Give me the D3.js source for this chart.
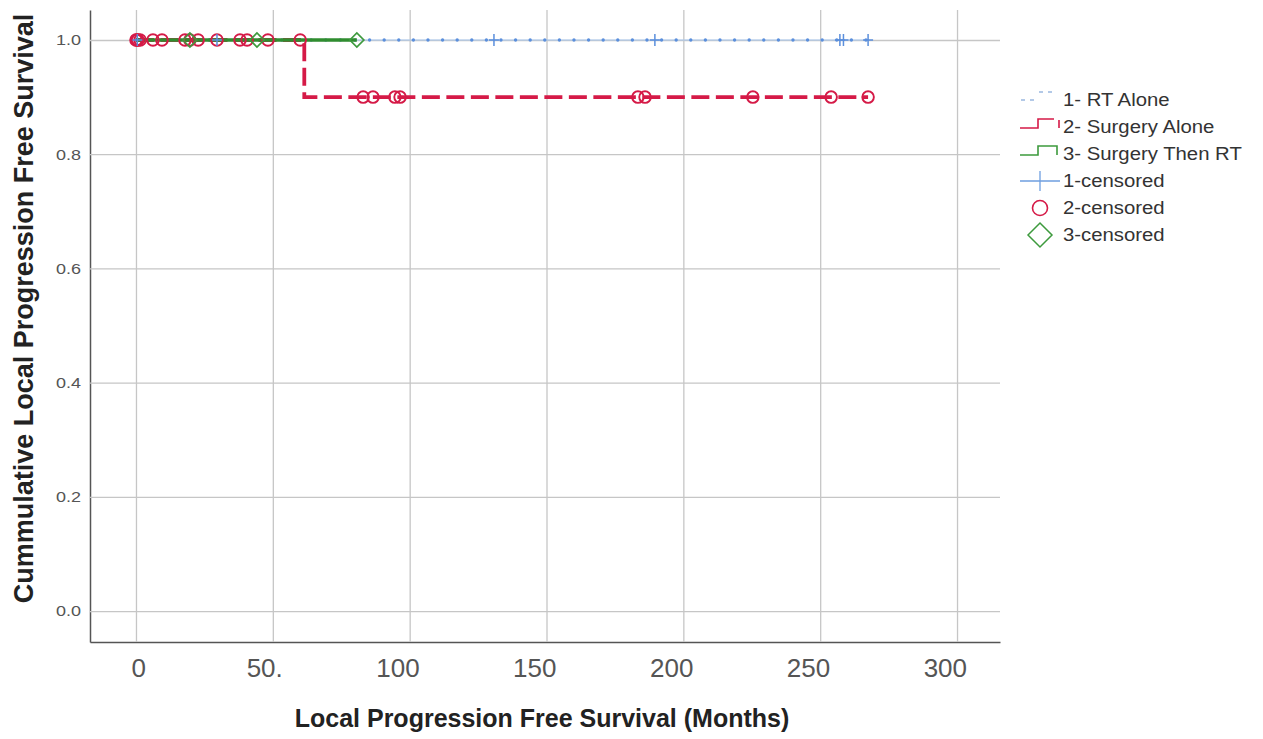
<!DOCTYPE html>
<html><head><meta charset="utf-8">
<script src="https://cdn.jsdelivr.net/npm/d3@7"></script>
<style>body{margin:0;background:#fff}svg{display:block}text{font-family:"Liberation Sans",Arial,sans-serif}</style>
</head><body><svg id="c" width="1263" height="739"></svg>
<script>
// X / Y ticks
const xTicks = [0, 50, 100, 150, 200, 250, 300];
const xTickLabels = ["0", "50.", "100", "150", "200", "250", "300"];
const yTicks = [0, 0.2, 0.4, 0.6, 0.8, 1.0];
const yTickLabels = ["0.0", "0.2", "0.4", "0.6", "0.8", "1.0"];

// Series names
const seriesNames = ["1- RT Alone", "2- Surgery Alone", "3- Surgery Then RT"];
const censorNames = ["1-censored", "2-censored", "3-censored"];

// Kaplan-Meier step points (time, survival)
const rtTimes = [0, 267.5];
const rtSurv = [1.0, 1.0];
const surgTimes = [0, 61.5, 267.5];
const surgSurv = [1.0, 0.9, 0.9];
const surgRtTimes = [0, 80.7];
const surgRtSurv = [1.0, 1.0];

// Censored observations (time, survival)
const rtCensTimes = [0.5, 29.6, 130.8, 189.6, 257.2, 258.5, 267.5];
const rtCensSurv = [1, 1, 1, 1, 1, 1, 1];
const surgCensTimes = [0, 0.3, 0.7, 1.5, 6.2, 9.5, 17.9, 19.7, 22.7, 29.6, 38, 40.6, 48.2, 60,
                       83, 86.6, 94.6, 96.5, 183.4, 186, 225.4, 254, 267.5];
const surgCensSurv = [1, 1, 1, 1, 1, 1, 1, 1, 1, 1, 1, 1, 1, 1,
                      0.9, 0.9, 0.9, 0.9, 0.9, 0.9, 0.9, 0.9, 0.9];
const surgRtCensTimes = [19.7, 44.2, 80.7];
const surgRtCensSurv = [1, 1, 1];

const svg = d3.select("#c");
const x = d3.scaleLinear().domain([-16.8, 315.7]).range([90, 1000]);
const y = d3.scaleLinear().domain([-0.054, 1.0525]).range([642, 10]);

const BLUE = "#5b8fdc", BLUE_L = "#a8c8f0", RED = "#d51a47", GREEN = "#2f8d2f", GREEN_M = "#3d9a3d";

// axes + gridlines
const gx = svg.append("g").attr("transform", "translate(0,642)")
  .call(d3.axisBottom(x).tickValues(xTicks).tickSize(-632).tickSizeOuter(0).tickFormat((d, i) => xTickLabels[i]));
gx.select(".domain").attr("stroke", "#555").attr("stroke-width", 1.5);
gx.selectAll(".tick line").attr("stroke", "#c6c6c6").attr("stroke-width", 1.3);
gx.selectAll(".tick text").attr("font-size", 26).attr("fill", "#555").attr("dy", 0).attr("y", 35)
  .attr("x", 9.5).attr("text-anchor", "end")
  .attr("font-family", "Liberation Sans, Arial, sans-serif");

const gy = svg.append("g").attr("transform", "translate(90,0)")
  .call(d3.axisLeft(y).tickValues(yTicks).tickSize(-910).tickSizeOuter(0).tickFormat((d, i) => yTickLabels[i]));
gy.select(".domain").attr("stroke", "#555").attr("stroke-width", 1.5);
gy.selectAll(".tick line").attr("stroke", "#c6c6c6").attr("stroke-width", 1.3);
gy.selectAll(".tick text").attr("font-size", 15).attr("fill", "#555").attr("x", 0)
  .attr("transform", "translate(-9,0) scale(1.2,1)")
  .attr("font-family", "Liberation Sans, Arial, sans-serif");

// lines
const line = d3.line().x(d => x(d[0])).y(d => y(d[1])).curve(d3.curveStepAfter);
const pts = (t, s) => t.map((v, i) => [v, s[i]]);

svg.append("path").attr("d", line(pts(rtTimes, rtSurv))).attr("fill", "none")
  .attr("stroke", BLUE_L).attr("stroke-width", 1.2);
svg.append("path").attr("d", line(pts(rtTimes, rtSurv))).attr("fill", "none")
  .attr("stroke", BLUE).attr("stroke-width", 3.4).attr("stroke-linecap", "round")
  .attr("stroke-dasharray", "0,14.6");

svg.append("path").attr("d", line(pts(surgTimes, surgSurv))).attr("fill", "none")
  .attr("stroke", RED).attr("stroke-width", 3.8).attr("stroke-dasharray", "18,6.5");

svg.append("path").attr("d", line(pts(surgRtTimes, surgRtSurv))).attr("fill", "none")
  .attr("stroke", GREEN).attr("stroke-width", 3.5);

// censor markers
svg.append("g").selectAll("circle").data(pts(surgCensTimes, surgCensSurv)).join("circle")
  .attr("cx", d => x(d[0])).attr("cy", d => y(d[1])).attr("r", 5.8)
  .attr("fill", "none").attr("stroke", RED).attr("stroke-width", 1.9);

svg.append("g").selectAll("path").data(pts(surgRtCensTimes, surgRtCensSurv)).join("path")
  .attr("d", d => { const cx = x(d[0]), cy = y(d[1]), s = 7; return `M${cx - s},${cy}L${cx},${cy - s}L${cx + s},${cy}L${cx},${cy + s}Z`; })
  .attr("fill", "none").attr("stroke", GREEN_M).attr("stroke-width", 1.7);

svg.append("g").selectAll("path").data(pts(rtCensTimes, rtCensSurv)).join("path")
  .attr("d", d => { const cx = x(d[0]), cy = y(d[1]); return `M${cx - 5},${cy}H${cx + 5}M${cx},${cy - 6}V${cy + 6}`; })
  .attr("fill", "none").attr("stroke", BLUE).attr("stroke-width", 1.5);

// axis titles
svg.append("text").attr("x", 542).attr("y", 727).attr("text-anchor", "middle")
  .attr("font-size", 25).attr("font-weight", "bold").attr("fill", "#222")
  .text("Local Progression Free Survival (Months)");
svg.append("text").attr("transform", "translate(33,308.5) rotate(-90)").attr("text-anchor", "middle")
  .attr("font-size", 27).attr("font-weight", "bold").attr("fill", "#222")
  .text("Cummulative Local Progression Free Survival");

// legend
const lg = svg.append("g");
const ly = [100, 127, 154, 181, 208, 235];
// step samples
lg.append("path").attr("d", `M1021,${ly[0]}H1035M1039,${ly[0] - 8}H1054`)
  .attr("fill", "none").attr("stroke", "#9ab8e0").attr("stroke-width", 1.3).attr("stroke-dasharray", "4,5");
lg.append("path").attr("d", `M1020,${ly[1] + 1}H1038V${ly[1] - 8}H1054M1059,${ly[1] - 7}V${ly[1] + 1}`)
  .attr("fill", "none").attr("stroke", RED).attr("stroke-width", 1.6);
lg.append("path").attr("d", `M1020,${ly[2] + 1}H1038V${ly[2] - 8}H1057V${ly[2] + 1}`)
  .attr("fill", "none").attr("stroke", GREEN_M).attr("stroke-width", 1.6);
// censor samples
lg.append("path").attr("d", `M1020,${ly[3]}H1060M1040,${ly[3] - 10}V${ly[3] + 10}`)
  .attr("stroke", "#6f9fe0").attr("stroke-width", 1.3).attr("fill", "none");
lg.append("circle").attr("cx", 1040).attr("cy", ly[4]).attr("r", 7.5)
  .attr("fill", "none").attr("stroke", RED).attr("stroke-width", 1.6);
lg.append("path").attr("d", `M1028,${ly[5]}L1040,${ly[5] - 12}L1052,${ly[5]}L1040,${ly[5] + 12}Z`)
  .attr("fill", "none").attr("stroke", GREEN_M).attr("stroke-width", 1.5);
seriesNames.concat(censorNames).forEach((nm, i) => {
  lg.append("text").attr("transform", `translate(1063,${ly[i] + 6}) scale(1.13,1)`)
    .attr("font-size", 18).attr("fill", "#333").text(nm);
});
</script></body></html>
